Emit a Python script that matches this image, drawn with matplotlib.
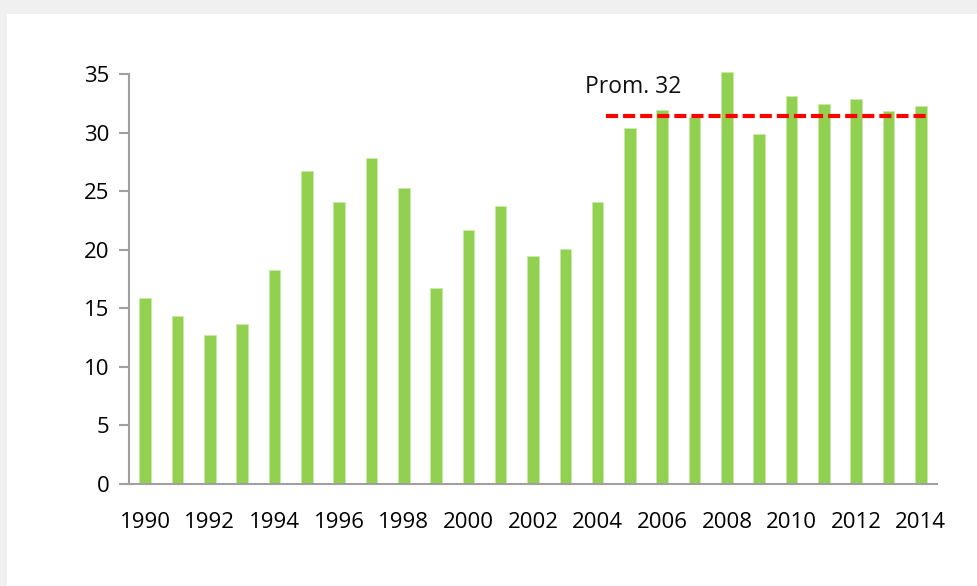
import matplotlib.pyplot as plt
from matplotlib.patches import Rectangle

years = list(range(1990, 2015))
values = [15.9, 14.35, 12.7, 13.65, 18.25, 26.7, 24.1, 27.8, 25.25, 16.7,
          21.7, 23.7, 19.5, 20.1, 24.1, 30.4, 31.9, 31.3, 35.2, 29.9,
          33.1, 32.4, 32.9, 31.8, 32.25]
avg_value = 31.4
avg_label = "Prom. 32"

plt.rcParams['font.family'] = ['Open Sans', 'DejaVu Sans']

fig = plt.figure(figsize=(9.78, 5.86), dpi=100, facecolor='#f0f0f0')

# white panel behind the chart
fig.patches.append(Rectangle((7 / 978, 0), 1, 1 - 14 / 586, transform=fig.transFigure,
                             facecolor='white', edgecolor='none', zorder=-10))

ax = fig.add_axes([129 / 978, 102 / 586, (937 - 129) / 978, (484 - 74) / 586])
ax.set_zorder(5)
ax.set_facecolor('none')

x = list(range(len(years)))
ax.bar(x, values, width=0.36, color='#92d050', edgecolor='#c8eaa8', linewidth=0.6,
       clip_on=False, zorder=2)

# average line over the last ten years
ax.plot([14.25, 24.15], [avg_value, avg_value], color='#ff0000', lw=3,
        dashes=(2.9, 1.2), zorder=3, clip_on=False)
ax.text(13.6, 33.9, avg_label, fontsize=16.5, va='center', ha='left', color='#111111')

ax.set_xlim(-0.5, len(years) - 0.5)
ax.set_ylim(0, 35)
ax.set_yticks(range(0, 36, 5))
ax.set_xticks(x[::2])
ax.set_xticklabels([str(y) for y in years[::2]])

for s in ['top', 'right']:
    ax.spines[s].set_visible(False)
for s in ['left', 'bottom']:
    ax.spines[s].set_color('#a0a0a0')
    ax.spines[s].set_linewidth(1.5)

ax.tick_params(axis='y', length=7, width=1.5, color='#a0a0a0', labelsize=16, pad=7)
ax.tick_params(axis='x', length=0, labelsize=16, pad=20)

fig.savefig('out.png', dpi=100, facecolor=fig.get_facecolor())
